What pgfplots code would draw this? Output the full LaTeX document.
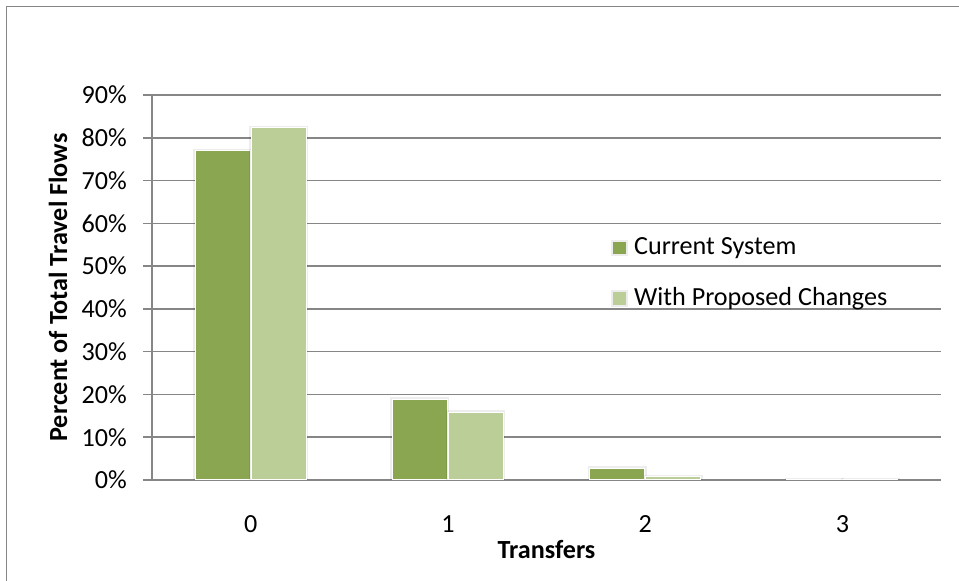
\documentclass[border=0pt]{standalone}
\usepackage{fontspec}
\setmainfont{Carlito}
\usepackage{pgfplots}
\pgfplotsset{compat=1.18}
\definecolor{curgreen}{RGB}{138,166,80}
\definecolor{propgreen}{RGB}{187,206,151}
\definecolor{gridgray}{RGB}{134,134,134}
\begin{document}
\fontsize{19.6}{23.5}\selectfont
\begin{tikzpicture}
\path[use as bounding box] (0pt,0pt) rectangle (719.25pt,435.75pt);
% outer chart frame
\draw[gridgray, line width=1.1pt] (4.9pt,0pt) -- (4.9pt,430.9pt) -- (719.25pt,430.9pt);
\begin{axis}[
  at={(114pt,75.75pt)}, anchor=south west,
  scale only axis, width=591.75pt, height=288.75pt,
  xmin=-0.5, xmax=3.5, ymin=0, ymax=90,
  axis lines*=left,
  axis line style={gridgray, line width=1.1pt, -},
  ymajorgrids, grid style={gridgray, line width=1.1pt},
  tick align=outside, major tick length=6.75pt,
  ytick style={gridgray, line width=1.1pt},
  xtick style={draw=none},
  ytick={0,10,20,30,40,50,60,70,80,90},
  yticklabels={0\%,10\%,20\%,30\%,40\%,50\%,60\%,70\%,80\%,90\%},
  yticklabel style={xshift=-5.5pt},
  xtick={0,1,2,3},
  xticklabels={0,1,2,3},
  xticklabel style={anchor=base, yshift=-32.25pt},
  xlabel={Transfers},
  xlabel style={font=\bfseries, at={(axis description cs:0.5,-0.2026)}, anchor=base},
  ylabel={Percent of Total Travel Flows},
  ylabel style={font=\bfseries, at={(axis description cs:-0.1191,0.5)}, anchor=center},
  ybar=0.75pt, bar width=41.25pt,
  legend style={draw=none, fill=none, at={(rel axis cs:0.582,0.536)}, anchor=west,
    row sep=17.5pt, inner sep=0pt, nodes={inner xsep=4.5pt}},
  legend cell align=left,
  legend image code/.code={\fill[#1,draw=none] (0pt,-4.6pt) rectangle (9.5pt,4.6pt);},
]
\addplot[fill=curgreen, draw=white, line width=0.75pt,
  preaction={draw=black, draw opacity=0.07, line width=3pt}]
  coordinates {(0,77.0) (1,18.9) (2,2.8) (3,0.1)};
\addlegendentry{Current System}
\addplot[fill=propgreen, draw=white, line width=0.75pt,
  preaction={draw=black, draw opacity=0.07, line width=3pt}]
  coordinates {(0,82.3) (1,15.8) (2,0.8) (3,0.05)};
\addlegendentry{With Proposed Changes}
\end{axis}
\end{tikzpicture}
\end{document}
